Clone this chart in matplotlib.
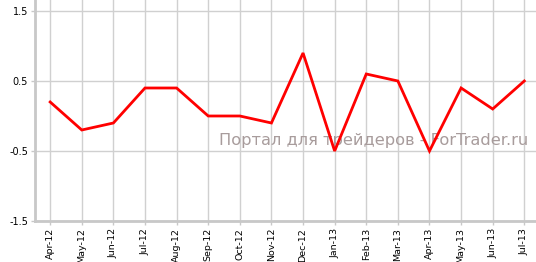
import matplotlib
matplotlib.use("Agg")
import matplotlib.pyplot as plt

months = ["Apr-12", "May-12", "Jun-12", "Jul-12", "Aug-12", "Sep-12", "Oct-12", "Nov-12",
          "Dec-12", "Jan-13", "Feb-13", "Mar-13", "Apr-13", "May-13", "Jun-13", "Jul-13"]
values = [0.2, -0.2, -0.1, 0.4, 0.4, 0.0, 0.0, -0.1, 0.9, -0.5, 0.6, 0.5, -0.5, 0.4, 0.1, 0.5]
yticks = [-1.5, -0.5, 0.5, 1.5]
ytick_labels = ["-1.5", "-0.5", "0.5", "1.5"]
watermark = "Портал для трейдеров - ForTrader.ru"

fig = plt.figure(figsize=(5.36, 2.62), dpi=100)
W, H = 536, 262
ax = fig.add_axes([35 / W, 1 - 221 / H, (536 - 35) / W, 221 / H])

x = list(range(len(months)))
ax.plot(x, values, color="#ff0000", linewidth=2, zorder=3, solid_joinstyle="miter")

ax.set_xlim(-0.48, len(months) - 1 + 0.37)
ax.set_ylim(-1.5, 1.657)
ax.set_xticks(x)
ax.set_xticklabels(months, rotation=90, fontsize=6.8, family="DejaVu Sans")
ax.set_yticks(yticks)
ax.set_yticklabels(ytick_labels, fontsize=7, family="DejaVu Sans")

ax.grid(True, color="#d0d0d0", linewidth=1)
ax.set_axisbelow(True)
for s in ["top", "right"]:
    ax.spines[s].set_visible(False)
for s in ["left", "bottom"]:
    ax.spines[s].set_color("#c8c8c8")
    ax.spines[s].set_linewidth(2)
ax.tick_params(axis="both", colors="#c8c8c8", labelcolor="#000000", length=3, width=1, pad=2)

ax.text(0.985, 0.365, watermark, transform=ax.transAxes, ha="right", va="center",
        fontsize=11.7, color="#a89c9c", zorder=2)

fig.savefig("out.png", dpi=100)
